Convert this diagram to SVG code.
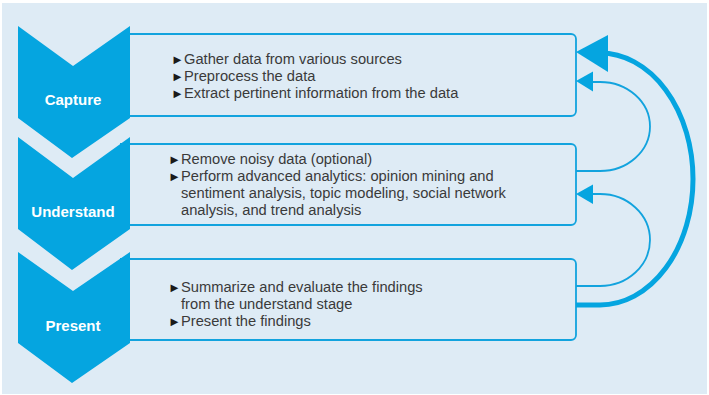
<svg xmlns="http://www.w3.org/2000/svg" width="709" height="395" viewBox="0 0 709 395">
<defs>
<style>
.bg{fill:#deebf5}
.chev{fill:#05a5e0}
.box{fill:none;stroke:#12a3de;stroke-width:1.8}
.lbl{font-family:"Liberation Sans",Arial,sans-serif;font-weight:bold;font-size:15px;fill:#ffffff;text-anchor:middle}
.t{font-family:"Liberation Sans",Arial,sans-serif;font-size:14.7px;fill:#3a3a3a}
.b{font-size:13px;fill:#1a1a1a}
.thin{fill:none;stroke:#12a3de;stroke-width:1.8}
.thick{fill:none;stroke:#05a5e0;stroke-width:5}
.head{fill:#05a5e0}
</style>
</defs>
<rect class="bg" x="2" y="3" width="705" height="391"/>

<g id="capture">
<path class="box" d="M120,34 H571 A5,5 0 0 1 576,39 V111 A5,5 0 0 1 571,116 H120"/>
<polygon class="chev" points="18,26 73,66 130,26 130,118 72,158 18,118"/>
<text class="lbl" x="73" y="105">Capture</text>
<text class="t" y="64"><tspan class="b" x="171">►</tspan><tspan x="184">Gather data from various sources</tspan></text>
<text class="t" y="81"><tspan class="b" x="171">►</tspan><tspan x="184">Preprocess the data</tspan></text>
<text class="t" y="98"><tspan class="b" x="171">►</tspan><tspan x="184">Extract pertinent information from the data</tspan></text>
</g>

<g id="understand">
<path class="box" d="M120,144 H571 A5,5 0 0 1 576,149 V220 A5,5 0 0 1 571,225 H120"/>
<polygon class="chev" points="18,137 73,178 130,137 130,229 72,270 18,229"/>
<text class="lbl" x="73" y="217">Understand</text>
<text class="t" y="164"><tspan class="b" x="168">►</tspan><tspan x="181">Remove noisy data (optional)</tspan></text>
<text class="t" y="181"><tspan class="b" x="168">►</tspan><tspan x="181">Perform advanced analytics: opinion mining and</tspan></text>
<text class="t" y="198" x="181">sentiment analysis, topic modeling, social network</text>
<text class="t" y="215" x="181">analysis, and trend analysis</text>
</g>

<g id="present">
<path class="box" d="M120,259 H571 A5,5 0 0 1 576,264 V335 A5,5 0 0 1 571,340 H120"/>
<polygon class="chev" points="18,252 73,291 130,252 130,343 72,383 18,343"/>
<text class="lbl" x="73" y="331">Present</text>
<text class="t" y="292"><tspan class="b" x="168">►</tspan><tspan x="181">Summarize and evaluate the findings</tspan></text>
<text class="t" y="309" x="181">from the understand stage</text>
<text class="t" y="326"><tspan class="b" x="168">►</tspan><tspan x="181">Present the findings</tspan></text>
</g>

<g id="connectors">
<path class="thin" d="M576,171 H600 A50,44.5 0 0 0 600,82 H590"/>
<polygon class="head" points="576,81 593,71.5 593,91.5"/>
<path class="thin" d="M576,286 H600 A50,46 0 0 0 600,194 H590"/>
<polygon class="head" points="576,194 593,184.5 593,204"/>
<path class="thick" d="M576,305 H600 A93,126 0 0 0 600,53 H604"/>
<polygon class="head" points="576,52 608,35 608,72"/>
</g>
</svg>
